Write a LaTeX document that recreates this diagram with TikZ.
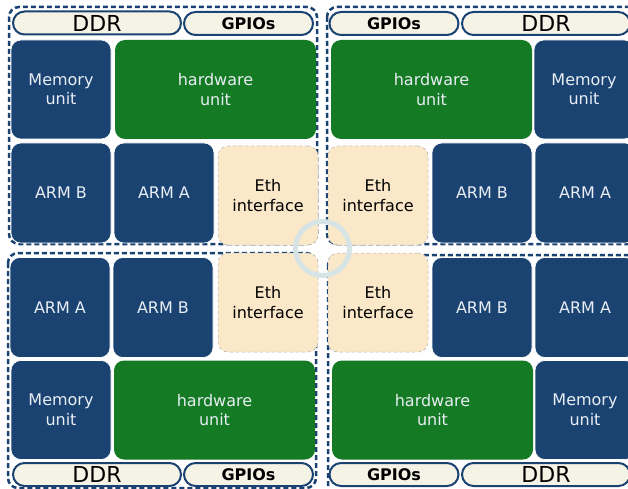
\documentclass[tikz,border=0pt]{standalone}
\usepackage{fontspec}
\setmainfont{DejaVu Sans}
\definecolor{armblue}{RGB}{26,67,114}
\definecolor{hwgreen}{RGB}{21,122,36}
\definecolor{pillfill}{RGB}{245,243,230}
\definecolor{ethfill}{RGB}{250,232,200}
\definecolor{ringcol}{RGB}{214,228,230}
\definecolor{lighttext}{RGB}{232,238,244}
\begin{document}
\begin{tikzpicture}[x=1pt,y=-1pt,
  base/.style={inner sep=0pt, outer sep=0pt, align=center, font=\fontsize{16}{19.5}\selectfont},
  blk/.style={base, rounded corners=10pt, minimum height=99pt, text=lighttext},
  mem/.style={blk, fill=armblue, draw=white, line width=0.6pt, minimum width=100pt},
  arm/.style={blk, fill=armblue, draw=white, line width=0.6pt, minimum width=100pt, minimum height=100pt},
  hw/.style={blk, fill=hwgreen, minimum width=201pt},
  eth/.style={base, rounded corners=10pt, fill=ethfill, draw=black!30, dashed, line width=0.5pt, minimum width=100pt, minimum height=99pt, text=black},
  pill/.style={base, rounded corners=11.5pt, fill=pillfill, draw=armblue, line width=2pt, minimum height=23pt, text=black},
  ddr/.style={pill, minimum width=168pt, font=\fontsize{22}{24}\selectfont},
  gpio/.style={pill, minimum width=129pt, font=\bfseries\fontsize{16}{18}\selectfont},
  group/.style={draw=armblue, line width=2.5pt, dash pattern=on 5pt off 3pt, rounded corners=10pt},
  ring/.style={draw=ringcol, line width=5pt}
]
\useasboundingbox (0,0) rectangle (628,489);
\clip (0,0) rectangle (628,489);
\fill[white] (0,0) rectangle (628,489);

% group frames
\draw[group] (9,7) rectangle (317,244);
\draw[group] (327,7) rectangle (645,244);
\draw[group] (8,253) rectangle (316,488);
\draw[group] (328,255) rectangle (645,500);

% top left
\node[ddr] (tlddr) at (97,23) {DDR};
\node[gpio] (tlgpio) at (248.5,23.5) {GPIOs};
\node[mem] (tlmem) at (61,89.5) {Memory\\unit};
\node[hw] (tlhw) at (215.5,89.5) {hardware\\unit};
\node[arm] (tlarmb) at (61,193) {ARM B};
\node[arm] (tlarma) at (164,193) {ARM A};
\node[eth] (tleth) at (268,195.5) {Eth\\interface};

% top right
\node[gpio] (trgpio) at (394,23.5) {GPIOs};
\node[ddr] (trddr) at (546,23.5) {DDR};
\node[hw] (trhw) at (431.5,89.5) {hardware\\unit};
\node[mem] (trmem) at (584,89.5) {Memory\\unit};
\node[eth] (treth) at (378,195.5) {Eth\\interface};
\node[arm] (trarmb) at (482,193) {ARM B};
\node[arm] (trarma) at (585,193) {ARM A};

% bottom left
\node[arm] (blarma) at (60,307.5) {ARM A};
\node[arm] (blarmb) at (163,307.5) {ARM B};
\node[eth] (bleth) at (268,302.5) {Eth\\interface};
\node[mem] (blmem) at (61,410) {Memory\\unit};
\node[hw] (blhw) at (214.5,410) {hardware\\unit};
\node[ddr] (blddr) at (97,474.5) {DDR};
\node[gpio] (blgpio) at (248.5,474.5) {GPIOs};

% bottom right
\node[eth] (breth) at (378,302.5) {Eth\\interface};
\node[arm] (brarmb) at (482,307.5) {ARM B};
\node[arm] (brarma) at (585,307.5) {ARM A};
\node[hw] (brhw) at (432.5,410) {hardware\\unit};
\node[mem] (brmem) at (585,410) {Memory\\unit};
\node[gpio] (brgpio) at (394,474.5) {GPIOs};
\node[ddr] (brddr) at (546,474.5) {DDR};

% centre ring
\draw[ring] (322.5,248.5) circle (27);
\end{tikzpicture}
\end{document}
